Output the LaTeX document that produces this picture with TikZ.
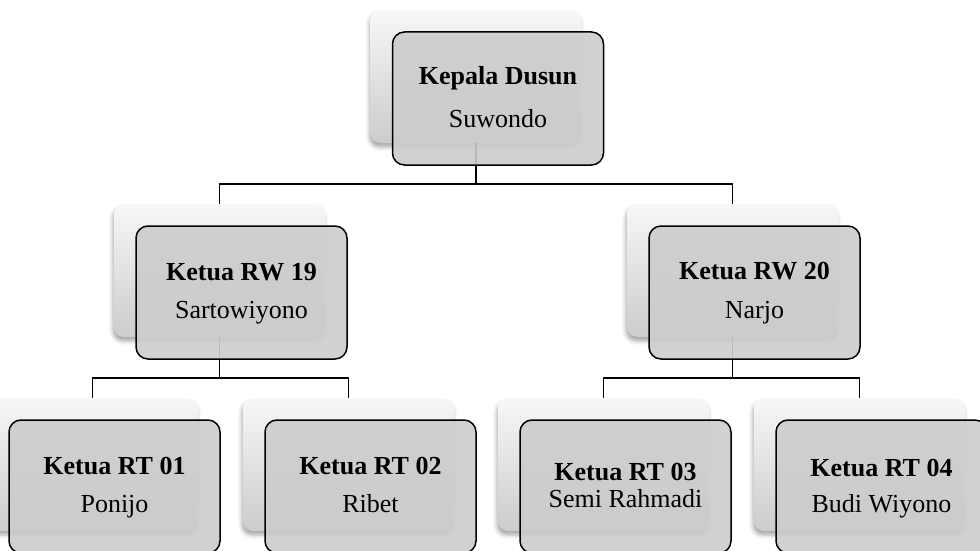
\documentclass[tikz,border=0pt]{standalone}
\usepackage{fontspec}
\setmainfont{Liberation Serif}
\usetikzlibrary{shadows.blur}
\tikzset{
  backbox/.style={rectangle, rounded corners=10pt, minimum width=211pt, minimum height=133pt, inner sep=0pt,
    top color=white!97!black, bottom color=white!80!black, draw=none,
    blur shadow={shadow xshift=-1pt, shadow yshift=-4pt, shadow blur radius=4pt, shadow opacity=35}},
  frontbox/.style={rectangle, rounded corners=12pt, minimum width=211pt, minimum height=133pt, inner sep=0pt,
    draw=black, line width=1.5pt, fill=black!20, fill opacity=0.9},
  link/.style={draw=black, line width=1.2pt},
  titletext/.style={anchor=base, inner sep=0pt, font=\fontsize{26}{30}\selectfont\bfseries},
  nametext/.style={anchor=base, inner sep=0pt, font=\fontsize{26}{30}\selectfont},
}
\begin{document}
\begin{tikzpicture}[x=1pt,y=-1pt]
\useasboundingbox (0,0) rectangle (980,551);
\begin{scope}
\clip (0,0) rectangle (980,551);
% back boxes
\node[backbox] (b0) at (476,76.5) {};
\node[backbox] (b1) at (219.5,270.5) {};
\node[backbox] (b2) at (732.5,270.5) {};
\node[backbox] (b3) at (92.5,464.5) {};
\node[backbox] (b4) at (348.5,464.5) {};
\node[backbox] (b5) at (603.5,464.5) {};
\node[backbox] (b6) at (859.5,464.5) {};
% junctions
\coordinate (j0) at (476,184);
\coordinate (j1) at (219.5,378);
\coordinate (j2) at (732.5,378);
% connectors
\draw[link] (b0.south) -- (j0);
\draw[link] (b1.north) |- (j0) -| (b2.north);
\draw[link] (b1.south) -- (j1);
\draw[link] (b3.north) |- (j1) -| (b4.north);
\draw[link] (b2.south) -- (j2);
\draw[link] (b5.north) |- (j2) -| (b6.north);
% front boxes
\node[frontbox] (f0) at (498,98.5) {};
\node[frontbox] (f1) at (241.5,292.5) {};
\node[frontbox] (f2) at (754.5,292.5) {};
\node[frontbox] (f3) at (114.5,486.5) {};
\node[frontbox] (f4) at (370.5,486.5) {};
\node[frontbox] (f5) at (625.5,486.5) {};
\node[frontbox] (f6) at (881.5,486.5) {};
\end{scope}
% texts
\node[titletext] (t0) at ([yshift=-53pt]f0.north) {Kepala Dusun};
\node[nametext]  (n0) at ([yshift=-96pt]f0.north) {Suwondo};
\node[titletext] (t1) at ([yshift=-55pt]f1.north) {Ketua RW 19};
\node[nametext]  (n1) at ([yshift=-93pt]f1.north) {Sartowiyono};
\node[titletext] (t2) at ([yshift=-54pt]f2.north) {Ketua RW 20};
\node[nametext]  (n2) at ([yshift=-93pt]f2.north) {Narjo};
\node[titletext] (t3) at ([yshift=-55pt]f3.north) {Ketua RT 01};
\node[nametext]  (n3) at ([yshift=-93pt]f3.north) {Ponijo};
\node[titletext] (t4) at ([yshift=-55pt]f4.north) {Ketua RT 02};
\node[nametext]  (n4) at ([yshift=-93pt]f4.north) {Ribet};
\node[titletext] (t5) at ([yshift=-61pt]f5.north) {Ketua RT 03};
\node[nametext]  (n5) at ([yshift=-88pt]f5.north) {Semi Rahmadi};
\node[titletext] (t6) at ([yshift=-57pt]f6.north) {Ketua RT 04};
\node[nametext]  (n6) at ([yshift=-93pt]f6.north) {Budi Wiyono};
\end{tikzpicture}
\end{document}
